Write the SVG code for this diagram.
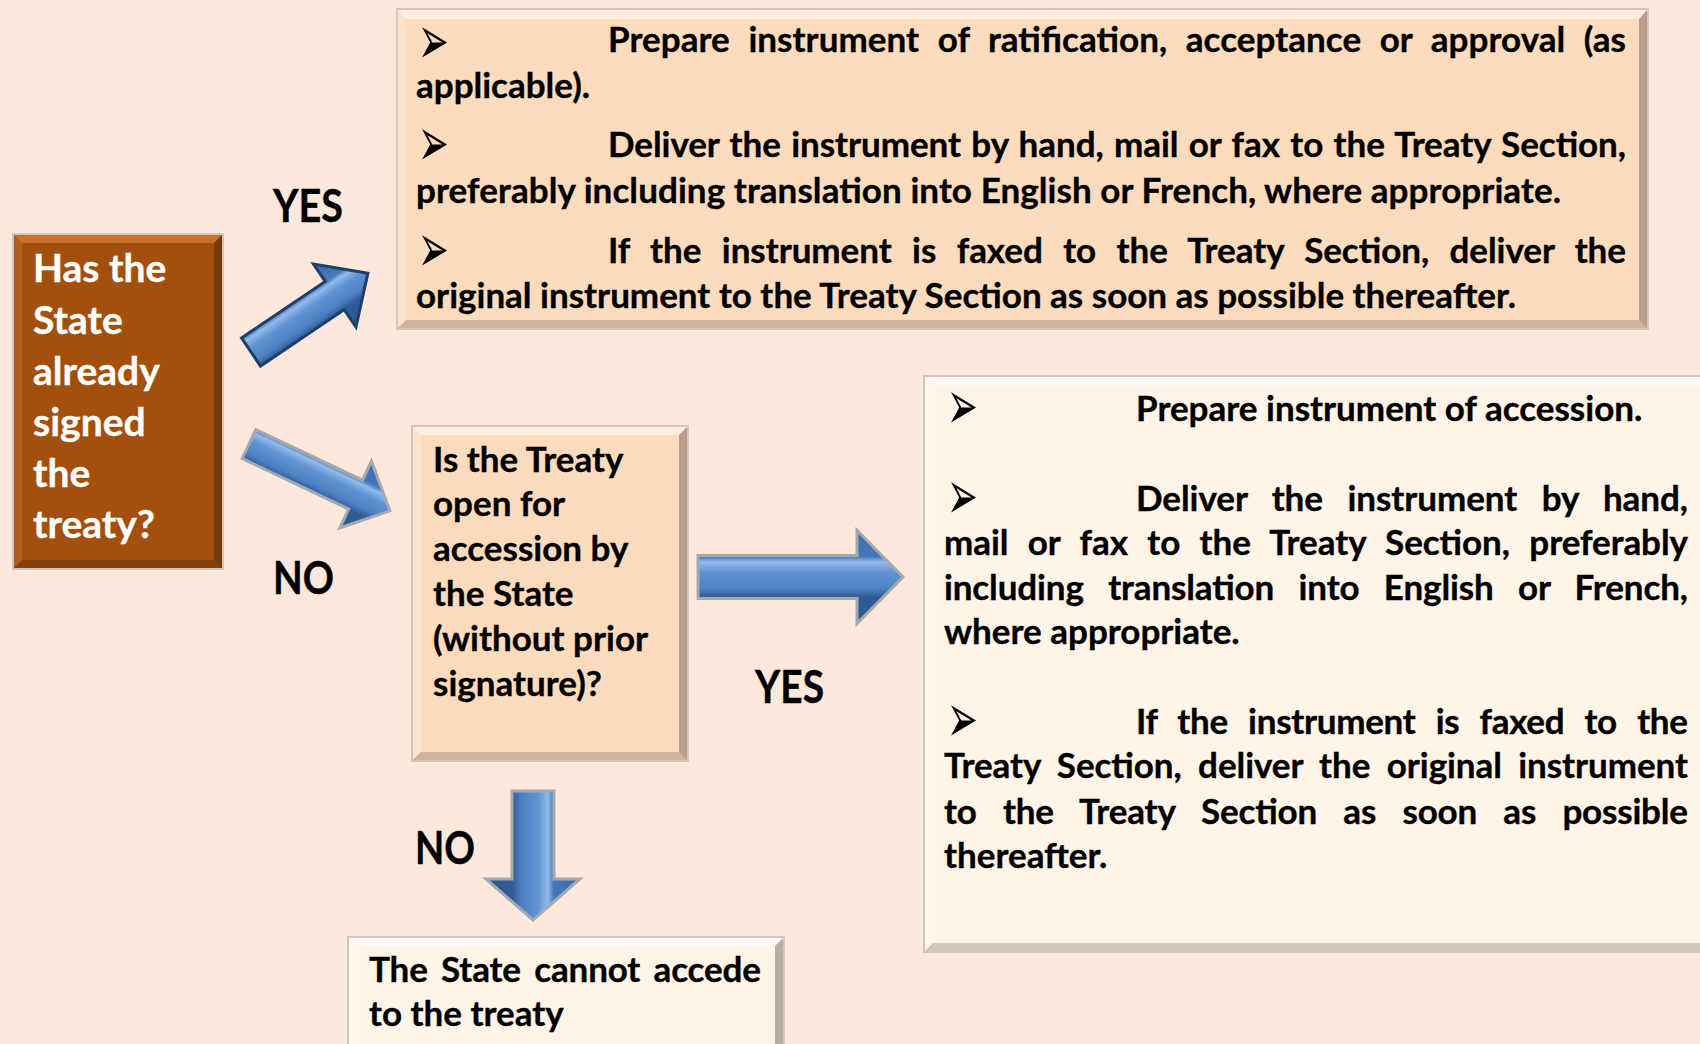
<svg xmlns="http://www.w3.org/2000/svg" width="1700" height="1044" viewBox="0 0 1700 1044">
<defs>
<style>
.t{font-family:Lato,"Open Sans","Liberation Sans",sans-serif;font-weight:700;font-size:35px;fill:#000;stroke:#000;stroke-width:0.35}
.w{font-family:Lato,"Open Sans","Liberation Sans",sans-serif;font-weight:700;font-size:39px;fill:#fff;stroke:#fff;stroke-width:0.35}
.lbl{font-family:Lato,"Open Sans","Liberation Sans",sans-serif;font-weight:700;font-size:45px;fill:#000;stroke:#000;stroke-width:0.4}
.blt{font-family:"DejaVu Sans",sans-serif;font-size:46px;fill:#000}
.bhi{fill:#fff;opacity:.55}
.bli{fill:#fff;opacity:.2}
.bdk{fill:#000;opacity:.28}
.bbt{fill:#000;opacity:.18}
.edge{fill:none;stroke:#cfc7bf;stroke-width:2}
.arr{fill:url(#ag);stroke:#a3a9b0;stroke-width:3;stroke-linejoin:miter}
.arrd{fill:url(#ag);stroke:#1e3f6b;stroke-width:3;stroke-linejoin:miter}
</style>
<linearGradient id="ag" x1="0" y1="0" x2="0" y2="1">
<stop offset="0" stop-color="#3a6aa8"/>
<stop offset="0.28" stop-color="#4677b8"/>
<stop offset="0.34" stop-color="#93bbec"/>
<stop offset="0.45" stop-color="#5f92d2"/>
<stop offset="0.62" stop-color="#4f82c4"/>
<stop offset="0.72" stop-color="#2f5b95"/>
<stop offset="1" stop-color="#2f5b95"/>
</linearGradient>
</defs>
<rect x="0" y="0" width="1700" height="1044" fill="#fde9db"/>

<g id="connectors">
<polygon class="arrd" transform="translate(251,352) rotate(-34)" points="0,-17 101,-17 101,-38 141,0 101,38 101,17 0,17"/>
<polygon class="arr" transform="translate(249,444) rotate(25.4)" points="0,-16 118,-16 118,-37 156,0 118,37 118,16 0,16"/>
<polygon class="arr" transform="translate(698,577)" points="0,-21.5 159,-21.5 159,-46.5 205,0 159,46.5 159,21.5 0,21.5"/>
<polygon class="arr" transform="translate(533,791) rotate(90)" points="0,-21 88,-21 88,-47 129,0 88,47 88,21 0,21"/>
<text class="lbl" x="273" y="222" textLength="70" lengthAdjust="spacingAndGlyphs">YES</text>
<text class="lbl" x="273" y="594" textLength="61" lengthAdjust="spacingAndGlyphs">NO</text>
<text class="lbl" x="755" y="703" textLength="69" lengthAdjust="spacingAndGlyphs">YES</text>
<text class="lbl" x="415" y="864" textLength="60" lengthAdjust="spacingAndGlyphs">NO</text>
</g>

<g id="q1">
<rect x="13" y="234" width="210" height="335" fill="#a3500e"/>
<polygon points="13,234 223,234 214,243 22,243" fill="#d07a35" opacity=".8"/>
<polygon points="13,234 22,243 22,560 13,569" fill="#b8621e" opacity=".8"/>
<polygon class="bdk" points="223,234 223,569 214,560 214,243"/>
<polygon class="bbt" points="13,569 223,569 214,560 22,560"/>
<rect class="edge" x="13" y="234" width="210" height="335"/>
<text class="w" x="33" y="282">Has the</text>
<text class="w" x="33" y="334">State</text>
<text class="w" x="33" y="385">already</text>
<text class="w" x="33" y="436">signed</text>
<text class="w" x="33" y="487">the</text>
<text class="w" x="33" y="538">treaty?</text>
</g>

<g id="ratify">
<rect x="397" y="9" width="1251" height="320" fill="#fcdcbd"/>
<polygon class="bhi" points="397,9 1648,9 1639,19 406,19"/>
<polygon class="bli" points="397,9 406,19 406,320 397,329"/>
<polygon class="bdk" points="1648,9 1648,329 1639,320 1639,19"/>
<polygon class="bbt" points="397,329 1648,329 1639,320 406,320"/>
<rect class="edge" x="397" y="9" width="1251" height="320"/>
<text class="blt" transform="translate(418,64) scale(0.8,1.5)">➢</text>
<text class="t" x="608" y="52" word-spacing="10" textLength="1018" lengthAdjust="spacing">Prepare instrument of ratification, acceptance or approval (as</text>
<text class="t" x="416" y="98">applicable).</text>
<text class="blt" transform="translate(418,166) scale(0.8,1.5)">➢</text>
<text class="t" x="608" y="157" word-spacing="2" textLength="1018" lengthAdjust="spacing">Deliver the instrument by hand, mail or fax to the Treaty Section,</text>
<text class="t" x="416" y="203" textLength="1145" lengthAdjust="spacing">preferably including translation into English or French, where appropriate.</text>
<text class="blt" transform="translate(418,272) scale(0.8,1.5)">➢</text>
<text class="t" x="608" y="263" word-spacing="12" textLength="1018" lengthAdjust="spacing">If the instrument is faxed to the Treaty Section, deliver the</text>
<text class="t" x="416" y="308" textLength="1100" lengthAdjust="spacing">original instrument to the Treaty Section as soon as possible thereafter.</text>
</g>

<g id="q2">
<rect x="412" y="426" width="276" height="335" fill="#fcdcbd"/>
<polygon class="bhi" points="412,426 688,426 679,435 421,435"/>
<polygon class="bli" points="412,426 421,435 421,752 412,761"/>
<polygon class="bdk" points="688,426 688,761 679,752 679,435"/>
<polygon class="bbt" points="412,761 688,761 679,752 421,752"/>
<rect class="edge" x="412" y="426" width="276" height="335"/>
<text class="t" x="433" y="472">Is the Treaty</text>
<text class="t" x="433" y="516">open for</text>
<text class="t" x="433" y="561">accession by</text>
<text class="t" x="433" y="606">the State</text>
<text class="t" x="433" y="651">(without prior</text>
<text class="t" x="433" y="696">signature)?</text>
</g>

<g id="accede">
<rect x="924" y="376" width="800" height="576" fill="#fef4e7"/>
<polygon class="bhi" points="924,376 1724,376 1715,385 933,385"/>
<polygon class="bli" points="924,376 933,385 933,943 924,952"/>
<polygon class="bbt" points="924,952 1724,952 1715,943 933,943"/>
<rect class="edge" x="924" y="376" width="800" height="576"/>
<text class="blt" transform="translate(947,429) scale(0.8,1.5)">➢</text>
<text class="t" x="1136" y="421">Prepare instrument of accession.</text>
<text class="blt" transform="translate(947,519) scale(0.8,1.5)">➢</text>
<text class="t" x="1136" y="511" word-spacing="16" textLength="552" lengthAdjust="spacing">Deliver the instrument by hand,</text>
<text class="t" x="944" y="555" word-spacing="11" textLength="744" lengthAdjust="spacing">mail or fax to the Treaty Section, preferably</text>
<text class="t" x="944" y="600" word-spacing="16" textLength="744" lengthAdjust="spacing">including translation into English or French,</text>
<text class="t" x="944" y="644">where appropriate.</text>
<text class="blt" transform="translate(947,742) scale(0.8,1.5)">➢</text>
<text class="t" x="1136" y="734" word-spacing="12" textLength="552" lengthAdjust="spacing">If the instrument is faxed to the</text>
<text class="t" x="944" y="778" word-spacing="8" textLength="744" lengthAdjust="spacing">Treaty Section, deliver the original instrument</text>
<text class="t" x="944" y="824" word-spacing="18" textLength="744" lengthAdjust="spacing">to the Treaty Section as soon as possible</text>
<text class="t" x="944" y="868">thereafter.</text>
</g>

<g id="cannot">
<rect x="348" y="937" width="436" height="120" fill="#fef4e7"/>
<polygon class="bhi" points="348,937 784,937 775,946 357,946"/>
<polygon class="bli" points="348,937 357,946 357,1057 348,1057"/>
<polygon class="bdk" points="784,937 784,1057 775,1057 775,946"/>
<rect class="edge" x="348" y="937" width="436" height="120"/>
<text class="t" x="369" y="982" word-spacing="5" textLength="392" lengthAdjust="spacing">The State cannot accede</text>
<text class="t" x="369" y="1026">to the treaty</text>
</g>
</svg>
